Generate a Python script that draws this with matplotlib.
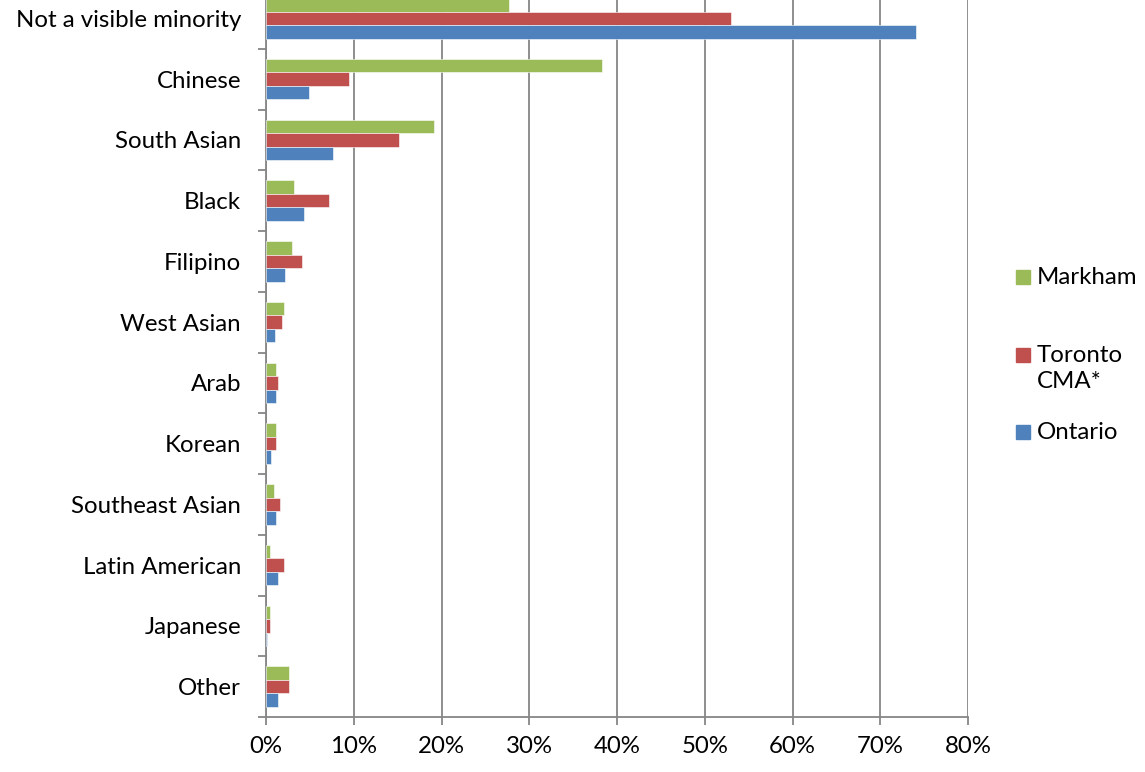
import numpy as np
import matplotlib.pyplot as plt
from matplotlib.patches import Rectangle

plt.rcParams['font.family'] = ['Lato', 'DejaVu Sans']

categories = ['Not a visible minority', 'Chinese', 'South Asian', 'Black',
              'Filipino', 'West Asian', 'Arab', 'Korean', 'Southeast Asian',
              'Latin American', 'Japanese', 'Other']
markham = [27.7, 38.3, 19.1, 3.2, 3.0, 2.1, 1.1, 1.1, 0.9, 0.5, 0.4, 2.6]
toronto = [53.0, 9.5, 15.1, 7.2, 4.1, 1.8, 1.4, 1.1, 1.6, 2.1, 0.4, 2.6]
ontario = [74.1, 4.9, 7.6, 4.3, 2.2, 1.0, 1.1, 0.6, 1.1, 1.4, 0.15, 1.4]
series_names = ['Markham', 'Toronto\nCMA*', 'Ontario']
colors = ['#9BBB59', '#C0504D', '#4F81BD']
xticks = np.arange(0, 81, 10)

fig = plt.figure(figsize=(11.45, 7.72), dpi=100)
W, H = 1145, 772
ax = fig.add_axes([266 / W, 1 - 717 / H, (968 - 266) / W, (717 + 12) / H])

y = np.arange(len(categories))
bh = 0.222
for k, (vals, c) in enumerate(zip([markham, toronto, ontario], colors)):
    ax.barh(y + (k - 1) * bh, vals, height=bh, color=c,
            edgecolor='white', linewidth=0.4, zorder=3)

fs = 17.3
ax.set_xlim(0, 80)
ax.set_ylim(len(categories) - 0.5, -0.5)
ax.set_xticks(xticks)
ax.set_xticklabels(['%d%%' % v for v in xticks], fontsize=fs)
ax.set_yticks(y)
ax.set_yticklabels(categories, fontsize=fs)
ax.set_yticks(np.arange(len(categories) + 1) - 0.5, minor=True)

grid_c = '#868686'
ax.grid(axis='x', color=grid_c, linewidth=1.3, zorder=0)
ax.tick_params(axis='y', which='major', length=0, pad=18)
ax.tick_params(axis='y', which='minor', length=6, width=1.3, color=grid_c, direction='out')
ax.tick_params(axis='x', which='major', length=6, width=1.3, color=grid_c,
               direction='out', pad=8)
for s in ['top', 'right']:
    ax.spines[s].set_visible(False)
for s in ['left', 'bottom']:
    ax.spines[s].set_color(grid_c)
    ax.spines[s].set_linewidth(1.3)

# legend
leg_y = [277, 355, 432]
for name, c, ly in zip(series_names, colors, leg_y):
    fig.patches.append(Rectangle((1016 / W, 1 - (ly + 7) / H), 14 / W, 14 / H,
                                 transform=fig.transFigure, color=c))
    fig.text(1037 / W, 1 - (ly - 10) / H, name, fontsize=fs, va='top',
             ha='left', linespacing=1.3)

fig.savefig('out.png', dpi=100)
